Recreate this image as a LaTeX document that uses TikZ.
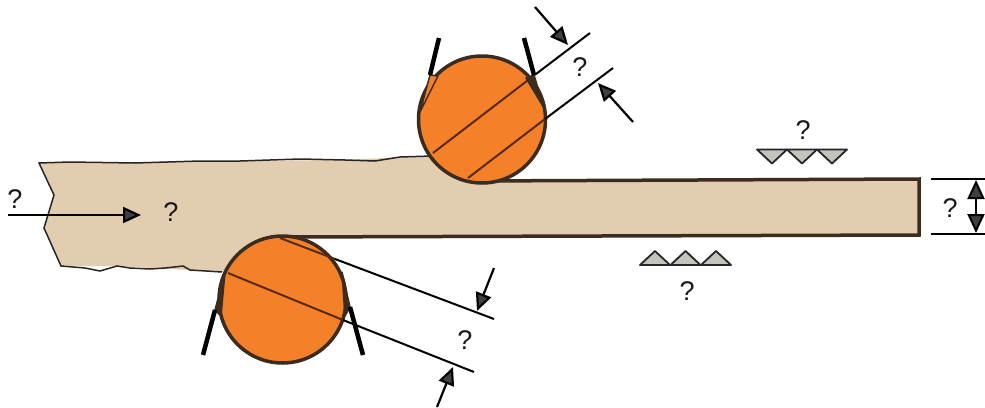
\documentclass[tikz,border=0pt]{standalone}
\usepackage{fontspec}
\setmainfont{Liberation Sans}
\usetikzlibrary{arrows.meta}
\definecolor{sheetfill}{HTML}{E3CDB0}
\definecolor{rollfill}{HTML}{F4802A}
\definecolor{edgedark}{HTML}{3B2C1E}
\definecolor{toothfill}{HTML}{C4C4BE}
\definecolor{tipgray}{HTML}{404040}
\definecolor{inrollcol}{HTML}{5A2A10}

\begin{document}
\begin{tikzpicture}[
  x=1pt, y=-1pt,
  qmark/.style={font=\fontsize{27}{27}\selectfont, text=black!90, inner sep=0pt},
  roll/.style={draw=edgedark, line width=3.5pt, fill=rollfill, circle, minimum size=127pt, inner sep=0pt},
  sheet/.style={fill=sheetfill, draw=none},
  sheetedge/.style={draw=edgedark, line width=3.5pt},
  torn/.style={draw=black!85, line width=1.5pt},
  wire/.style={draw=black, line width=2pt},
  inroll/.style={draw=inrollcol, line width=2pt},
  bar/.style={draw=black, line width=4.5pt},
  tang/.style={draw=edgedark, line width=1.5pt, line join=round},
  pointer/.style={draw=black, line width=2.2pt, -{Triangle[length=18pt,width=16pt,fill=tipgray]}},
  tooth/.style={draw=black!85, line width=1.8pt, fill=toothfill, line join=round}
]

\useasboundingbox (0,0) rectangle (985,407);

% strip
\path[sheet] (39,163) -- (54,195) -- (44,228) -- (61,266) -- (117,266) -- (222,272)
  -- (282,237) -- (919,235) -- (919,179) -- (475,181) -- (430,156) -- (340,160) -- cycle;
\draw[torn] (222,272) -- (190,270) -- (183,266) -- (165,268) -- (150,269) -- (130,268)
  -- (117,266) -- (100,271) -- (85,268) -- (61,266) -- (44,228) -- (54,195) -- (39,163)
  -- (70,162) -- (135,163) -- (200,161) -- (240,161) -- (300,159) -- (345,160) -- (375,161)
  -- (400,157) -- (432,156);
\draw[sheetedge] (475,181) -- (919,179) -- (919,235) -- (282,237);

% rolls
\node[roll] (rolltop) at (482,119.5) {};
\node[roll] (rollbottom) at (282.5,299.5) {};

\coordinate (a1) at (433,153);
\coordinate (a2) at (536,74);
\coordinate (a3) at (590,33);
\coordinate (b1) at (468,178);
\coordinate (b2) at (545,119);
\coordinate (b3) at (613,68);
\draw[inroll] (a1) -- (a2);
\draw[inroll] (b1) -- (b2);
\draw[wire] (a2) -- (a3);
\draw[wire] (b2) -- (b3);

\coordinate (c1) at (280,238);
\coordinate (c2) at (335,259);
\coordinate (c3) at (494,319);
\coordinate (d1) at (228,273);
\coordinate (d2) at (343,320);
\coordinate (d3) at (474,372);
\draw[inroll] (c1) -- (c2);
\draw[inroll] (d1) -- (d2);
\draw[wire] (c2) -- (c3);
\draw[wire] (d2) -- (d3);

% scrapers
\draw[tang, fill=rollfill] (430,75) -- (420,112) -- (438,76) -- cycle;
\draw[tang, fill=edgedark] (534,75) -- (544,108) -- (526,78) -- cycle;
\draw[tang, fill=edgedark] (215,310) -- (225,272) -- (221,316) -- cycle;
\draw[tang, fill=edgedark] (350,307) -- (342,272) -- (345,316) -- cycle;
\draw[bar] (439,38) -- (430,75);
\draw[bar] (524,38) -- (534,75);
\draw[bar] (203,355) -- (215,310);
\draw[bar] (363,355) -- (350,307);

% pointers
\coordinate (p1) at (535,7);
\coordinate (p2) at (568,45);
\coordinate (q1) at (633,122);
\coordinate (q2) at (598,83);
\coordinate (r1) at (494,268);
\coordinate (r2) at (477,311);
\coordinate (s1) at (437,407);
\coordinate (s2) at (453,367);
\coordinate (t1) at (8,215);
\coordinate (t2) at (141,215);
\draw[pointer] (p1) -- (p2);
\draw[pointer] (q1) -- (q2);
\draw[pointer] (r1) -- (r2);
\draw[pointer] (s1) -- (s2);
\draw[pointer] (t1) -- (t2);

% thickness
\coordinate (u1) at (931,179);
\coordinate (u2) at (985,179);
\coordinate (v1) at (931,234);
\coordinate (v2) at (985,234);
\draw[wire] (u1) -- (u2);
\draw[wire] (v1) -- (v2);
\coordinate (w1) at (976,180);
\coordinate (w2) at (976,233);
\draw[draw=black, line width=2pt, {Triangle[length=19pt,width=17pt,fill=tipgray]}-{Triangle[length=19pt,width=17pt,fill=tipgray]}] (w1) -- (w2);

% surface marks
\foreach \x in {757,787,817}
  \draw[tooth] (\x,149.5) -- ++(30,0) -- ++(-15,14) -- cycle;
\foreach \x in {640,670.5,701}
  \draw[tooth] (\x,265) -- ++(30,0) -- ++(-15,-14) -- cycle;

% labels
\node[qmark] (lbldraft) at (580,67) {?};
\node[qmark] (lblrolltwo) at (465,340) {?};
\node[qmark] (lblupper) at (803,130) {?};
\node[qmark] (lbllower) at (687,291) {?};
\node[qmark] (lblthick) at (950,208) {?};
\node[qmark] (lblfeed) at (15,199) {?};
\node[qmark] (lblstrip) at (171,212) {?};

\end{tikzpicture}
\end{document}
